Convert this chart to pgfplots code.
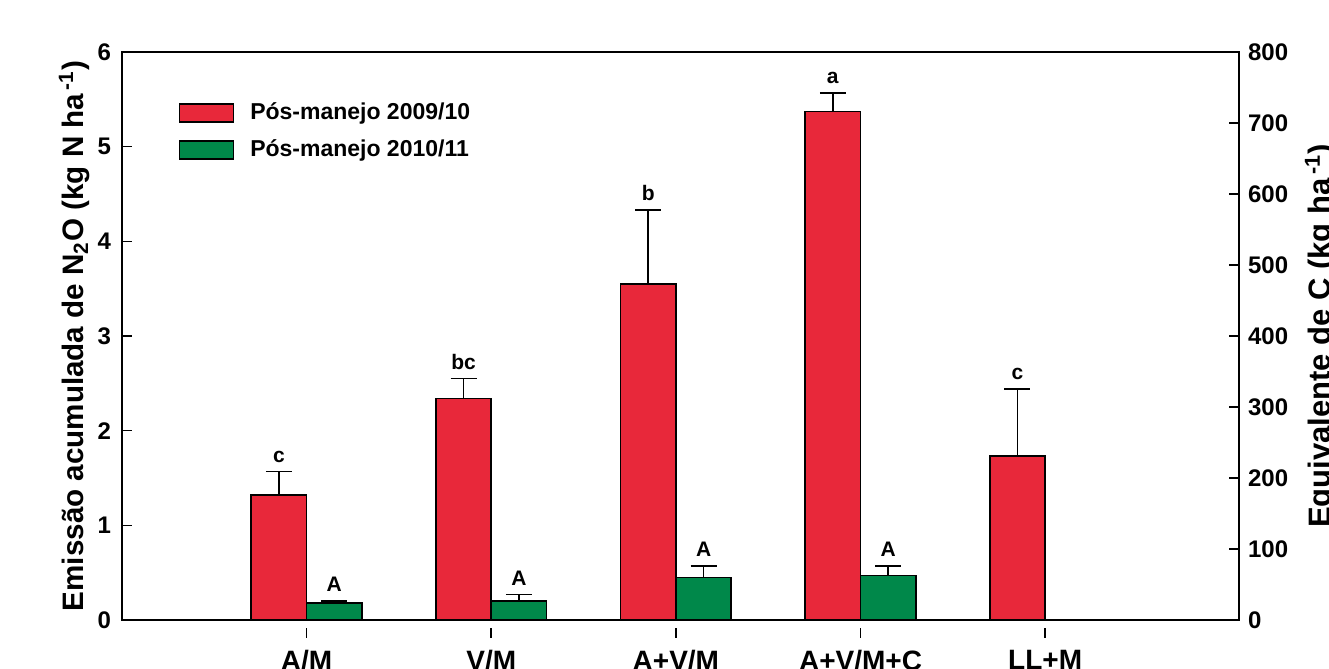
\documentclass[border=0pt]{standalone}
\usepackage{pgfplots}
\pgfplotsset{compat=1.18}
\usepackage{fontspec}
\setmainfont{Liberation Sans}
\definecolor{barred}{HTML}{E8283A}
\definecolor{bargreen}{HTML}{00884A}
\begin{document}
\bfseries
\begin{tikzpicture}
\begin{axis}[
  name=ax,
  scale only axis, width=558.5pt, height=284pt,
  xmin=-1, xmax=5.05, ymin=0, ymax=6,
  axis line style={line width=1pt},
  xtick={0,1,2,3,4},
  xticklabels={A/M,V/M,A+V/M,A+V/M+C,LL+M},
  xtick pos=bottom, ytick pos=left,
  tick align=inside,
  major tick length=5pt,
  every tick/.style={black, line width=0.8pt},
  every major x tick/.append style={yshift=-4pt},
  x tick label style={font=\fontsize{14}{16}\selectfont\bfseries, yshift=-6.5pt},
  y tick label style={font=\fontsize{12}{14}\selectfont\bfseries, xshift=-2pt},
  /pgf/number format/assume math mode=true,
  ytick={0,1,2,3,4,5,6},
  ylabel={Emissão acumulada de N\textsubscript{2}O (kg N ha\textsuperscript{\,-1})},
  ylabel style={font=\fontsize{14.8}{16}\selectfont\bfseries, yshift=-3pt},
  ybar, bar width=0.3,
  legend style={draw=none, fill=none, at={(0.045,0.925)}, anchor=north west,
    font=\fontsize{11.5}{13}\selectfont\bfseries, row sep=4.5pt,
    /tikz/every odd column/.append style={column sep=6pt}},
  legend cell align=left,
  legend image code/.code={\draw[#1, line width=0.8pt] (0pt,-4.5pt) rectangle (27pt,4.5pt);},
  error bars/y dir=plus, error bars/y explicit, error bars/error mark=|,
  error bars/error bar style={line width=0.8pt, black},
  error bars/error mark options={line width=0.8pt, black, mark size=6.5pt},
]
\addplot[ybar, bar shift=-0.15, fill=barred, draw=black, line width=0.8pt]
  coordinates {(0,1.32) +- (0,0.25) (1,2.34) +- (0,0.21) (2,3.55) +- (0,0.78) (3,5.37) +- (0,0.20) (4,1.73) +- (0,0.71)};
\addlegendentry{Pós-manejo 2009/10}
\addplot[ybar, bar shift=0.15, fill=bargreen, draw=black, line width=0.8pt]
  coordinates {(0,0.18) +- (0,0.02) (1,0.20) +- (0,0.07) (2,0.45) +- (0,0.12) (3,0.47) +- (0,0.10)};
\addlegendentry{Pós-manejo 2010/11}
\addplot[draw=none, mark=none, bar shift=0pt, error bars/y dir=none, nodes near coords, point meta=explicit symbolic,
  every node near coord/.append style={font=\fontsize{10.5}{12}\selectfont\bfseries, anchor=south, yshift=1pt}]
  table[meta=lab] {
x y lab
-0.15 1.57 c
0.85 2.55 bc
1.85 4.33 b
2.85 5.57 a
3.85 2.44 c
0.15 0.20 A
1.15 0.27 A
2.15 0.57 A
3.15 0.57 A
};
\end{axis}
\begin{axis}[
  scale only axis, width=558.5pt, height=284pt,
  xmin=-1, xmax=5.05, ymin=0, ymax=800,
  axis x line=none, axis y line*=right,
  axis line style={line width=1pt},
  tick align=inside, major tick length=5pt,
  every tick/.style={black, line width=0.8pt},
  ytick={0,100,...,800},
  y tick label style={font=\fontsize{12}{14}\selectfont\bfseries, xshift=1pt},
  /pgf/number format/assume math mode=true,
  ylabel={Equivalente de C (kg ha\textsuperscript{\,-1})},
  ylabel style={font=\fontsize{15.5}{17}\selectfont\bfseries, yshift=-1.5pt},
]
\end{axis}
\pgfresetboundingbox
\useasboundingbox ([shift={(-61pt,-24.5pt)}]ax.south west) rectangle ([shift={(45pt,26pt)}]ax.north east);
\end{tikzpicture}
\end{document}
